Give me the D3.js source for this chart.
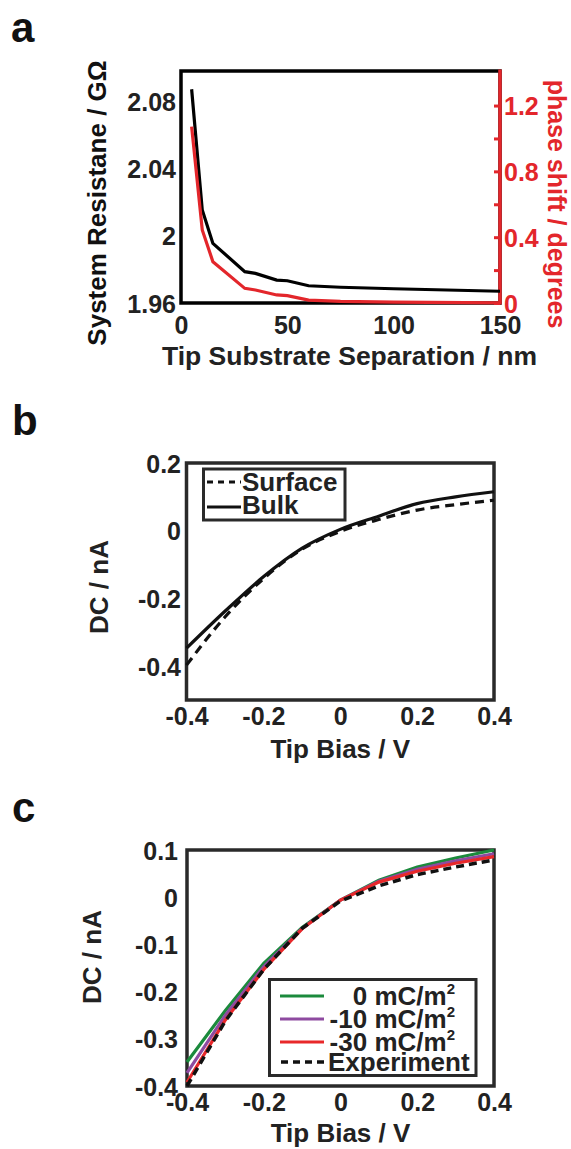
<!DOCTYPE html>
<html>
<head>
<meta charset="utf-8">
<script src="https://cdn.jsdelivr.net/npm/d3@7/dist/d3.min.js"></script>
<style>
  body { margin: 0; background: #fff; }
  svg text { font-family: "Liberation Sans", Arial, sans-serif; font-weight: bold; }
</style>
</head>
<body>
<svg id="fig" width="571" height="1149"></svg>
<script>
// ---- panel a : resistance / phase vs separation
const sepNm = [5, 10, 15, 30, 35, 45, 50, 60, 75, 100, 150];
const resistanceGOhm = [2.0876, 2.0155, 1.9956, 1.9787, 1.9777, 1.9737, 1.9733, 1.9703, 1.9694, 1.9685, 1.9670];
const phaseDeg = [1.072, 0.444, 0.251, 0.089, 0.079, 0.049, 0.045, 0.018, 0.010, 0.005, 0.001];
const sepTicks = [0, 50, 100, 150];
const resTicks = [1.96, 2.0, 2.04, 2.08];
const resTickLabels = ["1.96", "2", "2.04", "2.08"];
const phaseTicks = [0, 0.2, 0.4, 0.6, 0.8, 1.0, 1.2];
const phaseTickLabels = ["0", "", "0.4", "", "0.8", "", "1.2"];

// ---- panel b : surface vs bulk
const biasV = [-0.4, -0.3, -0.2, -0.1, 0, 0.1, 0.2, 0.3, 0.4];
const surfaceNA = [-0.397, -0.255, -0.142, -0.055, -0.002, 0.033, 0.061, 0.077, 0.090];
const bulkNA = [-0.347, -0.238, -0.136, -0.052, 0.004, 0.043, 0.080, 0.100, 0.115];
const biasTicks = [-0.4, -0.2, 0, 0.2, 0.4];
const biasTickLabels = ["-0.4", "-0.2", "0", "0.2", "0.4"];
const dcTicksB = [-0.4, -0.2, 0, 0.2];
const dcTickLabelsB = ["-0.4", "-0.2", "0", "0.2"];

// ---- panel c : surface charge series
const chargeNames = ["0 mC/m", "-10 mC/m", "-30 mC/m"];
const charge0 = [-0.349, -0.240, -0.140, -0.064, -0.006, 0.036, 0.064, 0.083, 0.100];
const charge10 = [-0.372, -0.250, -0.147, -0.066, -0.006, 0.034, 0.059, 0.077, 0.092];
const charge30 = [-0.392, -0.260, -0.153, -0.067, -0.006, 0.032, 0.055, 0.072, 0.086];
const experimentNA = [-0.400, -0.262, -0.153, -0.066, -0.008, 0.024, 0.048, 0.064, 0.079];
const dcTicksC = [-0.4, -0.3, -0.2, -0.1, 0, 0.1];
const dcTickLabelsC = ["-0.4", "-0.3", "-0.2", "-0.1", "0", "0.1"];

const svg = d3.select("#fig");
svg.append("rect").attr("width", 571).attr("height", 1149).attr("fill", "#fff");

const INK = "#222";
const RED = "#e3262b";

function letter(t, x, y) {
    svg.append("text").attr("x", x).attr("y", y).attr("font-size", 42).attr("fill", "#111").text(t);
}

function xAxis(scale, ticks, labels, yPos, gap) {
    svg.append("g")
        .attr("transform", `translate(0,${yPos})`)
        .call(d3.axisBottom(scale).tickValues(ticks).tickSize(0).tickFormat((d, i) => labels[i]))
        .call(g => g.select(".domain").remove())
        .call(g => g.selectAll("text")
            .attr("y", gap).attr("dy", null)
            .attr("font-size", 25).attr("fill", INK));
}

function yAxisLeft(scale, ticks, labels, xPos) {
    svg.append("g")
        .attr("transform", `translate(${xPos},0)`)
        .call(d3.axisLeft(scale).tickValues(ticks).tickSize(0).tickFormat((d, i) => labels[i]))
        .call(g => g.select(".domain").remove())
        .call(g => g.selectAll("text")
            .attr("x", 0).attr("dy", "0.36em")
            .attr("font-size", 25).attr("fill", INK));
}

function rotLabel(t, x, y, angle, color, size) {
    svg.append("text")
        .attr("transform", `translate(${x},${y}) rotate(${angle})`)
        .attr("text-anchor", "middle")
        .attr("font-size", size || 26)
        .attr("fill", color)
        .text(t);
}

// ================= a =================
const A = { left: 181, right: 500, top: 71, bottom: 303 };
const xA = d3.scaleLinear().domain([0, 150]).range([A.left, A.right]);
const yA = d3.scaleLinear().domain([1.96, 2.0985]).range([A.bottom, A.top]);
const yA2 = d3.scaleLinear().domain([0, 1.41]).range([A.bottom, A.top]);

letter("a", 11, 42);

svg.append("rect")
    .attr("x", A.left).attr("y", A.top)
    .attr("width", A.right - A.left).attr("height", A.bottom - A.top)
    .attr("fill", "none").attr("stroke", "#000").attr("stroke-width", 3.5);

xAxis(xA, sepTicks, sepTicks.map(String), A.bottom, 31);
yAxisLeft(yA, resTicks, resTickLabels, 176);

// right (red) axis
svg.append("g")
    .attr("transform", `translate(${A.right},0)`)
    .call(d3.axisRight(yA2).tickValues(phaseTicks).tickSize(-6).tickFormat((d, i) => phaseTickLabels[i]))
    .call(g => g.select(".domain").remove())
    .call(g => g.selectAll("line").attr("stroke", RED).attr("stroke-width", 3))
    .call(g => g.selectAll("text")
        .attr("x", 4).attr("dy", "0.36em")
        .attr("font-size", 25).attr("fill", RED));
svg.append("line")
    .attr("x1", A.right).attr("x2", A.right)
    .attr("y1", A.top - 1.5).attr("y2", A.bottom + 1.5)
    .attr("stroke", RED).attr("stroke-width", 3.5);

const resLine = d3.line().x((d, i) => xA(sepNm[i])).y(d => yA(d));
const phaseLine = d3.line().x((d, i) => xA(sepNm[i])).y(d => yA2(d));

svg.append("path").attr("d", resLine(resistanceGOhm))
    .attr("fill", "none").attr("stroke", "#000").attr("stroke-width", 3.2);
svg.append("path").attr("d", phaseLine(phaseDeg))
    .attr("fill", "none").attr("stroke", RED).attr("stroke-width", 3.2);

svg.append("text")
    .attr("x", (A.left + A.right) / 2 + 9).attr("y", 365)
    .attr("text-anchor", "middle").attr("font-size", 26.5).attr("fill", INK)
    .text("Tip Substrate Separation / nm");
rotLabel("System Resistane / GΩ", 106, 203, -90, "#111", 26);
rotLabel("phase shift / degrees", 548, 204, 90, RED, 25);

// ================= b =================
const B = { left: 186.5, right: 494, top: 463, bottom: 700 };
const xB = d3.scaleLinear().domain([-0.4, 0.4]).range([B.left, B.right]);
const yB = d3.scaleLinear().domain([-0.5, 0.2]).range([B.bottom, B.top]);

letter("b", 12, 435);

svg.append("rect")
    .attr("x", B.left).attr("y", B.top)
    .attr("width", B.right - B.left).attr("height", B.bottom - B.top)
    .attr("fill", "none").attr("stroke", "#2a2a2a").attr("stroke-width", 3.5);

xAxis(xB, biasTicks, biasTickLabels, B.bottom, 25);
yAxisLeft(yB, dcTicksB, dcTickLabelsB, 181);

const lineB = d3.line().curve(d3.curveMonotoneX).x((d, i) => xB(biasV[i])).y(d => yB(d));
svg.append("path").attr("d", lineB(surfaceNA))
    .attr("fill", "none").attr("stroke", "#111").attr("stroke-width", 3.2)
    .attr("stroke-dasharray", "9,6");
svg.append("path").attr("d", lineB(bulkNA))
    .attr("fill", "none").attr("stroke", "#111").attr("stroke-width", 3.2);

// legend b
const legB = svg.append("g");
legB.append("rect").attr("x", 203.5).attr("y", 469).attr("width", 141.5).attr("height", 51)
    .attr("fill", "#fff").attr("stroke", "#2a2a2a").attr("stroke-width", 3);
legB.append("line").attr("x1", 207).attr("x2", 241).attr("y1", 482).attr("y2", 482)
    .attr("stroke", "#111").attr("stroke-width", 3).attr("stroke-dasharray", "6,5");
legB.append("line").attr("x1", 207).attr("x2", 241).attr("y1", 507).attr("y2", 507)
    .attr("stroke", "#111").attr("stroke-width", 3);
legB.append("text").attr("x", 242).attr("y", 491).attr("font-size", 26).attr("fill", INK).text("Surface");
legB.append("text").attr("x", 242).attr("y", 514).attr("font-size", 26).attr("fill", INK).text("Bulk");

svg.append("text")
    .attr("x", (B.left + B.right) / 2).attr("y", 758)
    .attr("text-anchor", "middle").attr("font-size", 26).attr("fill", INK)
    .text("Tip Bias / V");
rotLabel("DC / nA", 108, 587, -90, INK);

// ================= c =================
const C = { left: 187, right: 494, top: 850, bottom: 1086 };
const xC = d3.scaleLinear().domain([-0.4, 0.4]).range([C.left, C.right]);
const yC = d3.scaleLinear().domain([-0.4, 0.1]).range([C.bottom, C.top]);

letter("c", 12, 822);

svg.append("rect")
    .attr("x", C.left).attr("y", C.top)
    .attr("width", C.right - C.left).attr("height", C.bottom - C.top)
    .attr("fill", "none").attr("stroke", "#2a2a2a").attr("stroke-width", 3.5);

xAxis(xC, biasTicks, biasTickLabels, C.bottom, 25);
yAxisLeft(yC, dcTicksC, dcTickLabelsC, 178);

const seriesC = [
    { name: chargeNames[0], values: charge0, color: "#1b8a3c" },
    { name: chargeNames[1], values: charge10, color: "#8e4aa0" },
    { name: chargeNames[2], values: charge30, color: "#e8282a" },
];
const lineC = d3.line().x((d, i) => xC(biasV[i])).y(d => yC(d));

svg.selectAll("path.charge")
    .data(seriesC)
    .join("path")
    .classed("charge", true)
    .attr("d", d => lineC(d.values))
    .attr("fill", "none")
    .attr("stroke", d => d.color)
    .attr("stroke-width", 3.2);
svg.append("path").attr("d", lineC(experimentNA))
    .attr("fill", "none").attr("stroke", "#111").attr("stroke-width", 3.5)
    .attr("stroke-dasharray", "8,5");

// legend c
const legC = svg.append("g");
legC.append("rect").attr("x", 269.5).attr("y", 979.5).attr("width", 206.5).attr("height", 96)
    .attr("fill", "#fff").attr("stroke", "#2a2a2a").attr("stroke-width", 3);
const rowY = [996, 1019, 1042, 1062];
seriesC.forEach((s, i) => {
    legC.append("line").attr("x1", 280).attr("x2", 324).attr("y1", rowY[i]).attr("y2", rowY[i])
        .attr("stroke", s.color).attr("stroke-width", 3.2);
    const t = legC.append("text").attr("x", 455).attr("y", rowY[i] + 9)
        .attr("text-anchor", "end").attr("font-size", 26).attr("fill", INK);
    t.append("tspan").text(s.name);
    t.append("tspan").attr("font-size", 15).attr("dy", -11).text("2");
});
legC.append("line").attr("x1", 281).attr("x2", 324).attr("y1", rowY[3]).attr("y2", rowY[3])
    .attr("stroke", "#111").attr("stroke-width", 3.5).attr("stroke-dasharray", "7,5");
legC.append("text").attr("x", 328).attr("y", rowY[3] + 9)
    .attr("font-size", 26).attr("fill", INK).text("Experiment");

svg.append("text")
    .attr("x", (C.left + C.right) / 2).attr("y", 1142)
    .attr("text-anchor", "middle").attr("font-size", 26).attr("fill", INK)
    .text("Tip Bias / V");
rotLabel("DC / nA", 101, 957, -90, INK);
</script>
</body>
</html>
